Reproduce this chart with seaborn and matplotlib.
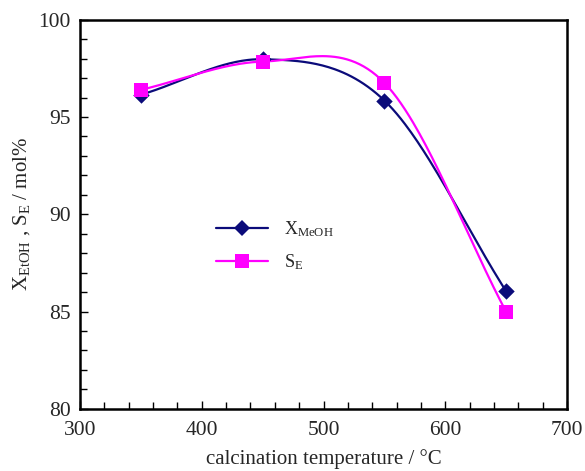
import numpy as np
import pandas as pd
import seaborn as sns
import matplotlib
matplotlib.use("Agg")
import matplotlib.pyplot as plt
from matplotlib.lines import Line2D
from matplotlib.ticker import MultipleLocator

# ---- data ----
temperature = [350, 450, 550, 650]
x_meoh = [96.15, 97.97, 95.85, 86.05]
s_e = [96.4, 97.85, 96.76, 85.0]
series_names = ["X$_{\\mathrm{MeOH}}$", "S$_{\\mathrm{E}}$"]
series_colors = ["#0b0b7a", "#ff00ff"]

sns.set_theme(style="ticks")
plt.rcParams["font.family"] = ["Liberation Serif", "DejaVu Serif"]
plt.rcParams["mathtext.fontset"] = "custom"
plt.rcParams["mathtext.rm"] = "Liberation Serif"
plt.rcParams["mathtext.it"] = "Liberation Serif:italic"


def smooth(xs, ys, n=60):
    """Catmull-Rom style smoothing used only to draw the connecting curve."""
    xs = np.asarray(xs, float)
    ys = np.asarray(ys, float)
    m = len(xs)
    tx = np.zeros(m)
    ty = np.zeros(m)
    for i in range(m):
        a = max(i - 1, 0)
        b = min(i + 1, m - 1)
        f = 0.5 if (i > 0 and i < m - 1) else 1.0
        tx[i] = (xs[b] - xs[a]) * f
        ty[i] = (ys[b] - ys[a]) * f
    outx, outy = [], []
    t = np.linspace(0, 1, n)
    h00 = 2 * t**3 - 3 * t**2 + 1
    h10 = t**3 - 2 * t**2 + t
    h01 = -2 * t**3 + 3 * t**2
    h11 = t**3 - t**2
    for i in range(m - 1):
        outx.append(h00 * xs[i] + h10 * tx[i] + h01 * xs[i + 1] + h11 * tx[i + 1])
        outy.append(h00 * ys[i] + h10 * ty[i] + h01 * ys[i + 1] + h11 * ty[i + 1])
    return np.concatenate(outx), np.concatenate(outy)


fig = plt.figure(figsize=(5.85, 4.71), dpi=100)
ax = fig.add_axes([0.137, 0.132, 0.832, 0.826])

markers = ["D", "s"]
msizes = [70, 110]
for vals, name, col, mk, ms in zip([x_meoh, s_e], series_names, series_colors, markers, msizes):
    sx, sy = smooth(temperature, vals)
    df_line = pd.DataFrame({"T": sx, "v": sy})
    sns.lineplot(data=df_line, x="T", y="v", ax=ax, color=col, lw=1.6, sort=False, estimator=None)
    df_pts = pd.DataFrame({"T": temperature, "v": vals})
    sns.scatterplot(data=df_pts, x="T", y="v", ax=ax, color=col, marker=mk, s=ms, linewidth=0, zorder=3)

ax.set_xlim(300, 700)
ax.set_ylim(80, 100)
ax.xaxis.set_major_locator(MultipleLocator(100))
ax.xaxis.set_minor_locator(MultipleLocator(20))
ax.yaxis.set_major_locator(MultipleLocator(5))
ax.yaxis.set_minor_locator(MultipleLocator(1))
ax.tick_params(axis="both", which="both", direction="in", top=False, right=False,
               color="black", width=1.0, labelsize=15.5)
ax.tick_params(axis="x", pad=9)
ax.tick_params(axis="y", pad=7)
ax.tick_params(which="major", length=6)
ax.tick_params(which="minor", length=5)
for sp in ax.spines.values():
    sp.set_linewidth(1.8)
    sp.set_color("black")

ax.set_xlabel("calcination temperature / °C", fontsize=15, labelpad=6)
ax.set_ylabel("X$_{\\mathrm{EtOH}}$ , S$_{\\mathrm{E}}$ / mol%", fontsize=15, labelpad=4)

handles = [
    Line2D([0], [0], color=series_colors[0], lw=1.6, marker="D", markersize=8, markeredgewidth=0),
    Line2D([0], [0], color=series_colors[1], lw=1.6, marker="s", markersize=10, markeredgewidth=0),
]
ax.legend(handles, series_names, loc="upper left", bbox_to_anchor=(0.246, 0.53), frameon=False,
          fontsize=13, handlelength=2.9, handletextpad=0.85, labelspacing=0.75)

fig.savefig("out.png", dpi=100)
